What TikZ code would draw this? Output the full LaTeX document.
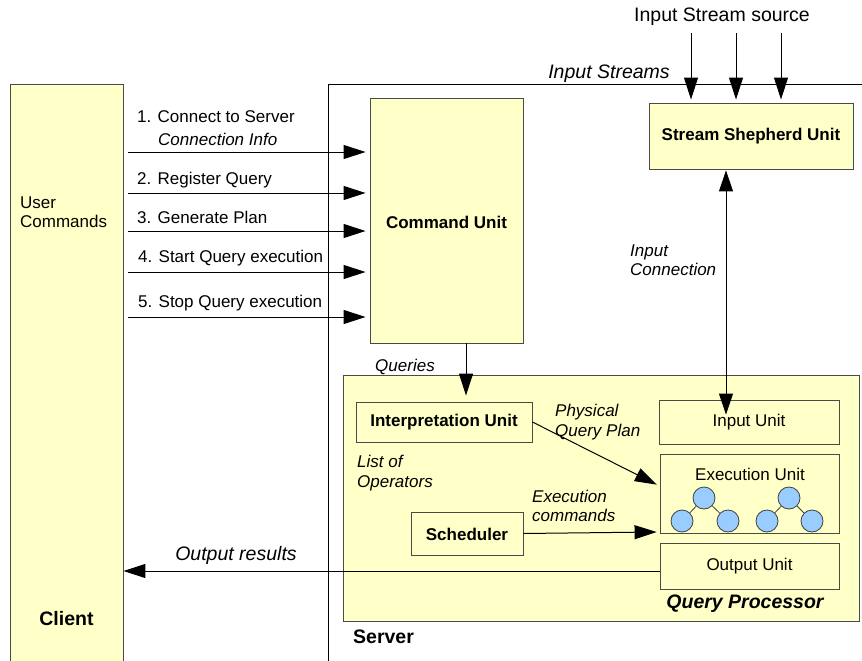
\documentclass[tikz,border=0pt]{standalone}
\usepackage{fontspec}
\setmainfont{Liberation Sans}
\usetikzlibrary{arrows.meta,calc}
\definecolor{paleyellow}{HTML}{FFFFC8}
\definecolor{boxgray}{HTML}{4A4A4A}
\definecolor{opblue}{HTML}{99CCFF}
\tikzset{
  box/.style={draw=boxgray, fill=paleyellow, line width=0.9pt, inner sep=0pt},
  arr/.style={-{Triangle[length=22pt,width=14pt]}, line width=1pt},
  dblarr/.style={{Triangle[length=21pt,width=14pt]}-{Triangle[length=21pt,width=14pt]}, line width=1pt},
  txt/.style={inner sep=0pt, font=\fontsize{17}{19.5}\selectfont, align=left},
  big/.style={inner sep=0pt, font=\fontsize{19.5}{22}\selectfont},
  op/.style={circle, draw=black!75, fill=opblue, line width=0.8pt, minimum size=22pt, inner sep=0pt},
  opedge/.style={draw=black!75, line width=0.8pt}
}
\begin{document}
\begin{tikzpicture}[x=1pt,y=-1pt]
\useasboundingbox (0,0) rectangle (862,661);
\fill[white] (0,0) rectangle (862,661);

% client column (runs off the bottom edge)
\node[box, minimum width=113pt, minimum height=640pt] (client) at (66.5,404) {};
\node[txt, anchor=west] (usercmd) at (20,212) {User\\Commands};
\node[big, font=\fontsize{19.5}{22}\selectfont\bfseries] (clientlbl) at (66.5,619) {Client};

% server frame
\coordinate (srvtl) at (328.5,84);
\draw[line width=0.9pt] (328.5,680) -- (srvtl) -- (880,84);
\node[big, font=\fontsize{19.5}{22}\selectfont\bfseries, anchor=west] (srvlbl) at (353,637) {Server};
\node[big, font=\fontsize{19.5}{22}\selectfont\itshape] (instreams) at (609,74) {Input Streams};

% command unit and stream shepherd
\node[box, minimum width=153pt, minimum height=245pt] (cmd) at (446.5,220.5) {};
\node[txt, font=\fontsize{17}{19.5}\selectfont\bfseries] (cmdlbl) at (446.5,222) {Command Unit};
\node[box, minimum width=204pt, minimum height=66pt] (shep) at (751,136) {};
\node[txt, font=\fontsize{17}{19.5}\selectfont\bfseries] (sheplbl) at (751,136) {Stream Shepherd Unit};

% input stream sources
\node[big] (srclbl) at (722,17) {Input Stream source};
\foreach \i/\x in {1/691,2/736,3/781}{
  \coordinate (src\i) at (\x,33);
  \draw[arr, shorten >=3pt] (src\i) -- (src\i |- shep.north);
}

% user commands
\node[txt, anchor=west] (c1) at (137,117) {1. Connect to Server};
\node[txt, anchor=west, font=\fontsize{17}{19.5}\selectfont\itshape] (c1b) at (158,139) {Connection Info};
\node[txt, anchor=west] (c2) at (137,180) {2. Register Query};
\node[txt, anchor=west] (c3) at (137,217) {3. Generate Plan};
\node[txt, anchor=west] (c4) at (138,258) {4. Start Query execution};
\node[txt, anchor=west] (c5) at (138,303) {5. Stop Query execution};
\foreach \i/\y in {1/152,2/193,3/231,4/272,5/317}{
  \coordinate (u\i) at (128,\y);
  \draw[arr, shorten >=4pt] (u\i) -- (u\i -| cmd.west);
}

% query processor
\node[box, minimum width=516pt, minimum height=246pt] (qp) at (601,498) {};
\node[big, font=\fontsize{19.5}{22}\selectfont\bfseries\itshape] (qplbl) at (745,604) {Query Processor};
\node[box, minimum width=176pt, minimum height=40pt] (interp) at (444,422) {};
\node[txt, font=\fontsize{17}{19.5}\selectfont\bfseries] (interplbl) at (444,422) {Interpretation Unit};
\node[box, minimum width=112pt, minimum height=43pt] (sched) at (467,533.5) {};
\node[txt, font=\fontsize{17}{19.5}\selectfont\bfseries] (schedlbl) at (467,534) {Scheduler};
\node[box, minimum width=180pt, minimum height=44pt] (inp) at (749,422) {};
\node[txt] (inplbl) at (749,422) {Input Unit};
\node[box, minimum width=179pt, minimum height=79pt] (exec) at (749.5,493.5) {};
\node[txt] (execlbl) at (750,474) {Execution Unit};
\node[box, minimum width=179pt, minimum height=46pt] (outu) at (749.5,566) {};
\node[txt] (outlbl) at (749.5,566) {Output Unit};

% operator trees
\node[op] (t1r) at (704,498) {};
\node[op] (t1a) at (682,521) {};
\node[op] (t1b) at (728,521) {};
\node[op] (t2r) at (789,498) {};
\node[op] (t2a) at (767,521) {};
\node[op] (t2b) at (812,521) {};
\foreach \r/\c in {t1r/t1a,t1r/t1b,t2r/t2a,t2r/t2b}
  \draw[opedge] (\r) -- (\c);

% queries
\coordinate (qx) at (466,0);
\draw[arr, shorten >=6pt] (cmd.south -| qx) -- (interp.north -| qx);
\node[txt, font=\fontsize{17}{19.5}\selectfont\itshape] (qlbl) at (405,367) {Queries};

% input connection
\coordinate (ix) at (726,0);
\draw[dblarr, shorten <=1pt] (shep.south -| ix) -- ([yshift=-15pt]inp.north -| ix);
\node[txt, anchor=west, font=\fontsize{17}{19.5}\selectfont\itshape] (iclbl) at (630,260) {Input\\Connection};

% plan and commands into the execution unit
\draw[arr, shorten >=3pt] (interp.east) -- ([yshift=7.5pt]exec.west);
\node[txt, anchor=west, font=\fontsize{17}{19.5}\selectfont\itshape] (pqp) at (555,422) {Physical\\Query Plan};
\node[txt, anchor=west, font=\fontsize{17}{19.5}\selectfont\itshape] (lop) at (357,473) {List of\\Operators};
\draw[arr, shorten >=3pt] (sched.east) -- ([yshift=1.5pt]exec.south west);
\node[txt, anchor=west, font=\fontsize{17}{19.5}\selectfont\itshape] (ecmd) at (532,506) {Execution\\commands};

% output results
\draw[arr] ([yshift=-5pt]outu.west) -- ([yshift=-5pt]outu.west -| client.east);
\node[big, font=\fontsize{19.5}{22}\selectfont\itshape] (outres) at (236,555) {Output results};
\end{tikzpicture}
\end{document}
